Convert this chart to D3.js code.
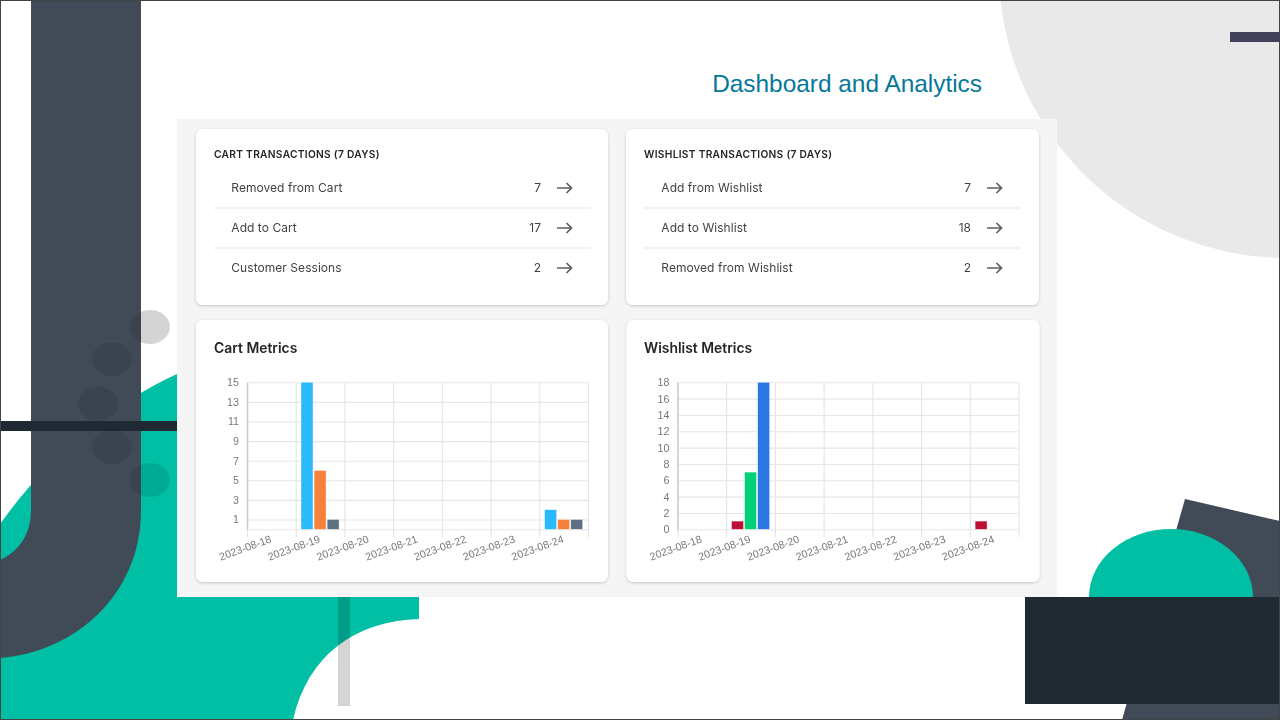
<!DOCTYPE html>
<html>
<head>
<meta charset="utf-8">
<script src="https://cdn.jsdelivr.net/npm/d3@7"></script>
<style>
  html, body { margin: 0; padding: 0; background: #fff; overflow: hidden; }
  svg { display: block; }
</style>
</head>
<body>
<div id="chart-area"></div>
<script>
const dates = ["2023-08-18", "2023-08-19", "2023-08-20", "2023-08-21", "2023-08-22", "2023-08-23", "2023-08-24"];

const cartRows = ["Removed from Cart", "Add to Cart", "Customer Sessions"];
const cartTotals = [7, 17, 2];
const wishlistRows = ["Add from Wishlist", "Add to Wishlist", "Removed from Wishlist"];
const wishlistTotals = [7, 18, 2];

const cartAdded = [0, 15, 0, 0, 0, 0, 2];
const cartRemoved = [0, 6, 0, 0, 0, 0, 1];
const cartSessions = [0, 1, 0, 0, 0, 0, 1];
const cartColors = ["#29b9fd", "#f7813b", "#5f7084"];
const cartTicks = [1, 3, 5, 7, 9, 11, 13, 15];
const cartGrid = [0, 1, 3, 5, 7, 9, 11, 13, 15];

const wishRemoved = [0, 1, 0, 0, 0, 0, 1];
const wishFrom = [0, 7, 0, 0, 0, 0, 0];
const wishAdded = [0, 18, 0, 0, 0, 0, 0];
const wishColors = ["#bd1035", "#00d078", "#2b78e4"];
const wishTicks = [0, 2, 4, 6, 8, 10, 12, 14, 16, 18];

const sansFont = "Inter, 'Noto Sans', sans-serif";
const axisFont = "'Liberation Sans', Arial, sans-serif";

let svg = d3.select("#chart-area")
  .append("svg")
    .attr("width", 1280)
    .attr("height", 720);

// ----------------- Background shapes -----------------
let bg = svg.append("g");
const dots = [[150, 327], [112, 359], [98, 404], [112, 447], [150, 480]];

bg.append("rect").attr("width", 1280).attr("height", 720).attr("fill", "#fff");

bg.append("circle")
  .attr("cx", 1287).attr("cy", -30).attr("r", 288)
  .attr("fill", "#e9e9e9");

bg.append("rect")
  .attr("x", 1230).attr("y", 32).attr("width", 50).attr("height", 10)
  .attr("fill", "#414159");

// teal hill
bg.append("path")
  .attr("d", "M0,524 C50,455 110,405 177,374 L177,597 L419,597 L419,619 C355,621 308,655 293,720 L0,720 Z")
  .attr("fill", "#00bfa5");

// the top dot looks darker on white, so it gets a second layer under the J
bg.append("ellipse")
  .attr("cx", dots[0][0]).attr("cy", dots[0][1]).attr("rx", 20).attr("ry", 17)
  .attr("fill", "#000").attr("opacity", 0.07);

// J shape
bg.append("path")
  .attr("d", "M31,0 L141,0 L141,510 C141,595 75,652 0,658 L0,560 C18,552 31,535 31,510 Z")
  .attr("fill", "#414b57");

bg.append("rect")
  .attr("x", 0).attr("y", 421).attr("width", 177).attr("height", 10)
  .attr("fill", "#1f2933");

dots.forEach(d => {
  bg.append("ellipse")
    .attr("cx", d[0]).attr("cy", d[1]).attr("rx", 20).attr("ry", 17)
    .attr("fill", "#000").attr("opacity", 0.1);
});

bg.append("rect")
  .attr("x", 338).attr("y", 597).attr("width", 12).attr("height", 109)
  .attr("fill", "#000").attr("opacity", 0.17);

// bottom right group
bg.append("path")
  .attr("d", "M1185,499 L1280,521 L1280,720 L1122,720 Z")
  .attr("fill", "#414b57");
bg.append("ellipse")
  .attr("cx", 1171).attr("cy", 597).attr("rx", 82).attr("ry", 68)
  .attr("fill", "#00bfa5");
bg.append("rect")
  .attr("x", 1025).attr("y", 597).attr("width", 255).attr("height", 107)
  .attr("fill", "#1f2a33");

// thin frame of the screenshot
bg.append("rect")
  .attr("x", 0.5).attr("y", 0.5).attr("width", 1279).attr("height", 719)
  .attr("fill", "none").attr("stroke", "#444").attr("stroke-width", 1);

// ----------------- Panel and cards -----------------
svg.append("rect")
  .attr("x", 177).attr("y", 119).attr("width", 880).attr("height", 478)
  .attr("fill", "#f5f5f5");

svg.append("text")
  .attr("x", 982).attr("y", 92)
  .attr("text-anchor", "end")
  .attr("font-family", axisFont)
  .attr("font-size", 24.4)
  .attr("fill", "#06789a")
  .text("Dashboard and Analytics");

let defs = svg.append("defs");
let shadow = defs.append("filter").attr("id", "card-shadow")
  .attr("x", "-5%").attr("y", "-5%").attr("width", "110%").attr("height", "110%");
shadow.append("feDropShadow")
  .attr("dx", 0).attr("dy", 1).attr("stdDeviation", 1.5)
  .attr("flood-color", "#000").attr("flood-opacity", 0.2);

function card(x, y, w, h) {
  svg.append("rect")
    .attr("x", x).attr("y", y).attr("width", w).attr("height", h)
    .attr("rx", 7)
    .attr("fill", "#fff")
    .attr("filter", "url(#card-shadow)");
}

function listCard(x, w, title, rows, totals) {
  card(x, 129, w, 176);

  svg.append("text")
    .attr("x", x + 18).attr("y", 158)
    .attr("font-family", sansFont)
    .attr("font-size", 10.2).attr("font-weight", 600)
    .attr("letter-spacing", 0.3)
    .attr("fill", "#202223")
    .attr("opacity", 0.99)
    .text(title);

  rows.forEach((row, i) => {
    let cy = 188 + i * 40;

    svg.append("text")
      .attr("x", x + 35.3).attr("y", cy + 4)
      .attr("font-family", sansFont).attr("font-size", 12)
      .attr("letter-spacing", 0.05)
      .attr("fill", "#3c3e40")
      .attr("opacity", 0.99)
      .text(row);

    svg.append("text")
      .attr("x", x + 345).attr("y", cy + 4)
      .attr("text-anchor", "end")
      .attr("font-family", sansFont).attr("font-size", 12)
      .attr("fill", "#3c3e40")
      .attr("opacity", 0.99)
      .text(totals[i]);

    svg.append("path")
      .attr("d", `M${x + 361},${cy} H${x + 375} M${x + 370.5},${cy - 5} L${x + 375.5},${cy} L${x + 370.5},${cy + 5}`)
      .attr("fill", "none")
      .attr("stroke", "#5c5f62")
      .attr("stroke-width", 1.7);

    if (i < rows.length - 1) {
      svg.append("line")
        .attr("x1", x + 18).attr("x2", x + 395)
        .attr("y1", cy + 20).attr("y2", cy + 20)
        .attr("stroke", "#e4e5e7");
    }
  });
}

listCard(196, 412, "CART TRANSACTIONS (7 DAYS)", cartRows, cartTotals);
listCard(626, 413, "WISHLIST TRANSACTIONS (7 DAYS)", wishlistRows, wishlistTotals);

// ----------------- Charts -----------------
function barChart(left, title, titleX, series, colors, yMax, yTicks, yGrid) {
  let top = 382.3;
  let width = 341;
  let height = 147;

  card(left - 51, 320, title === "Cart Metrics" ? 412 : 413, 262);

  svg.append("text")
    .attr("x", titleX).attr("y", 353)
    .attr("font-family", sansFont)
    .attr("font-size", 13.9).attr("font-weight", 600)
    .attr("fill", "#202223")
    .attr("opacity", 0.99)
    .text(title);

  let group = svg.append("g")
    .attr("transform", `translate(${left}, ${top})`);

  let x = d3.scaleBand()
    .domain(dates)
    .range([0, width]);

  let x_inner = d3.scaleBand()
    .domain(d3.range(series.length))
    .range([x.bandwidth() * 0.11, x.bandwidth() * 0.89])
    .paddingInner(0.09);

  // grid ticks sit on the band edges, 8 of them for 7 days
  let x_edges = d3.scaleLinear()
    .domain([0, dates.length])
    .range([0, width]);

  let y = d3.scaleLinear()
    .domain([0, yMax])
    .range([height, 0]);

  // Y grid
  group.append("g")
    .call(d3.axisLeft(y).tickValues(yGrid).tickSize(-width).tickFormat(""))
    .call(g => g.select(".domain").remove())
    .selectAll("line")
      .attr("stroke", "#e6e6e6")
      .attr("stroke-width", 1.1);

  // X grid, running past the baseline as tick marks
  let x_axis = group.append("g")
    .attr("transform", `translate(0, ${height + 8})`)
    .attr("opacity", 0.99)
    .call(d3.axisBottom(x_edges)
      .tickValues(d3.range(dates.length + 1))
      .tickSize(-(height + 8))
      .tickFormat(i => dates[i] || ""));

  x_axis.select(".domain").remove();
  x_axis.selectAll("line")
    .attr("stroke", "#e4e4e4")
    .attr("stroke-width", 1.1);
  x_axis.selectAll("text")
    .attr("font-family", axisFont)
    .attr("font-size", 10.7)
    .attr("fill", "#777777")
    .attr("text-anchor", "middle")
    .attr("dy", 0)
    .attr("y", 0)
    .attr("transform", "translate(-1, 14) rotate(-20)");

  // Y labels
  let y_axis = group.append("g")
    .attr("opacity", 0.99)
    .call(d3.axisLeft(y).tickValues(yTicks).tickSize(0).tickPadding(8));
  y_axis.select(".domain")
    .attr("stroke", "#cccccc")
    .attr("stroke-width", 1.5);
  y_axis.selectAll("text")
    .attr("font-family", axisFont)
    .attr("font-size", 10.7)
    .attr("fill", "#777777");

  // Bars
  series.forEach((values, s) => {
    group.selectAll(null)
      .data(values.map((v, i) => ({ date: dates[i], value: v })).filter(d => d.value > 0))
      .enter()
      .append("rect")
        .attr("x", d => x(d.date) + x_inner(s))
        .attr("y", d => y(d.value))
        .attr("width", x_inner.bandwidth())
        .attr("height", d => height - y(d.value))
        .attr("fill", colors[s])
        .attr("stroke", "#fff")
        .attr("stroke-opacity", 0.55)
        .attr("stroke-width", 0.6);
  });
}

barChart(247, "Cart Metrics", 214, [cartAdded, cartRemoved, cartSessions], cartColors, 15, cartTicks, cartGrid);
barChart(677.5, "Wishlist Metrics", 644, [wishRemoved, wishFrom, wishAdded], wishColors, 18, wishTicks, wishTicks);
</script>
</body>
</html>
